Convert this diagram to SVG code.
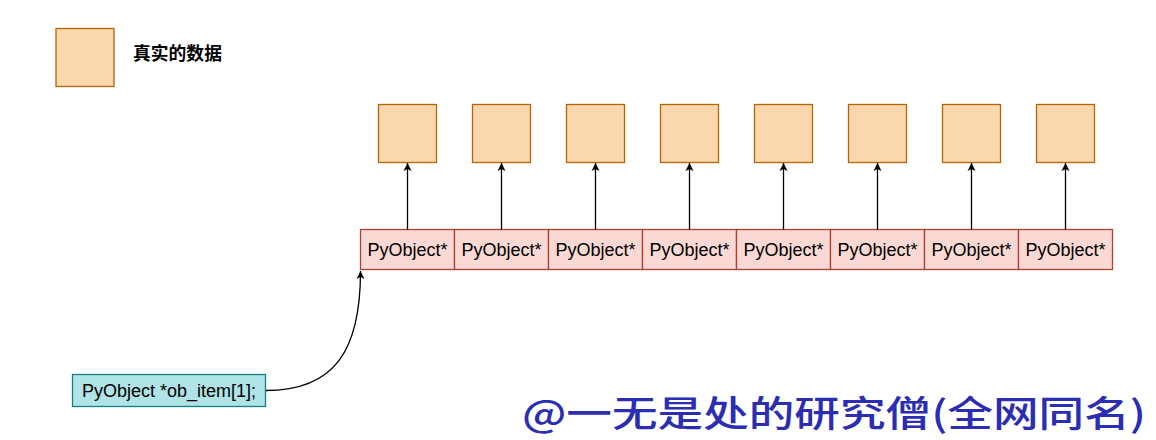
<svg xmlns="http://www.w3.org/2000/svg" width="1156" height="440" viewBox="0 0 1156 440">
<defs>
<style>
.data{fill:#fad7ac;stroke:#b46504;stroke-width:1.3}
.cell{fill:#fad9d5;stroke:#ae4132;stroke-width:1.3}
.ptr{fill:#b0e3e6;stroke:#0e8088;stroke-width:1.3}
.lbl{font-family:"Liberation Sans",Arial,sans-serif;font-size:18px;fill:#000;text-anchor:middle}
.conn{fill:none;stroke:#000;stroke-width:1.3}
</style>
<marker id="arr" markerWidth="10" markerHeight="10" refX="9" refY="5" orient="auto" markerUnits="userSpaceOnUse">
<path d="M1,1 L9,5 L1,9 L3,5 Z" fill="#000"/>
</marker>
</defs>
<rect width="1156" height="440" fill="#fff"/>
<g id="legend">
<rect class="data" x="56" y="28.5" width="58" height="58"/>
<text x="133" y="60" font-family="'Liberation Sans','Noto Sans CJK SC',sans-serif" font-size="17.8" font-weight="bold" fill="#000">真实的数据</text>
</g>
<g id="data-nodes">
<rect id="d0" class="data" x="378.5" y="104.5" width="58" height="58"/>
<rect id="d1" class="data" x="472.5" y="104.5" width="58" height="58"/>
<rect id="d2" class="data" x="566.5" y="104.5" width="58" height="58"/>
<rect id="d3" class="data" x="660.5" y="104.5" width="58" height="58"/>
<rect id="d4" class="data" x="754.5" y="104.5" width="58" height="58"/>
<rect id="d5" class="data" x="848.5" y="104.5" width="58" height="58"/>
<rect id="d6" class="data" x="942.5" y="104.5" width="58" height="58"/>
<rect id="d7" class="data" x="1036.5" y="104.5" width="58" height="58"/>
</g>
<g id="array">
<g id="c0"><rect class="cell" x="360.5" y="229.5" width="94" height="40"/><text class="lbl" x="407.5" y="256">PyObject*</text></g>
<g id="c1"><rect class="cell" x="454.5" y="229.5" width="94" height="40"/><text class="lbl" x="501.5" y="256">PyObject*</text></g>
<g id="c2"><rect class="cell" x="548.5" y="229.5" width="94" height="40"/><text class="lbl" x="595.5" y="256">PyObject*</text></g>
<g id="c3"><rect class="cell" x="642.5" y="229.5" width="94" height="40"/><text class="lbl" x="689.5" y="256">PyObject*</text></g>
<g id="c4"><rect class="cell" x="736.5" y="229.5" width="94" height="40"/><text class="lbl" x="783.5" y="256">PyObject*</text></g>
<g id="c5"><rect class="cell" x="830.5" y="229.5" width="94" height="40"/><text class="lbl" x="877.5" y="256">PyObject*</text></g>
<g id="c6"><rect class="cell" x="924.5" y="229.5" width="94" height="40"/><text class="lbl" x="971.5" y="256">PyObject*</text></g>
<g id="c7"><rect class="cell" x="1018.5" y="229.5" width="94" height="40"/><text class="lbl" x="1065.5" y="256">PyObject*</text></g>
</g>
<g id="ob-item">
<rect class="ptr" x="72.5" y="374.5" width="193" height="32"/>
<text class="lbl" x="169" y="397">PyObject *ob_item[1];</text>
</g>
<g id="connectors">
<line class="conn" x1="407.5" y1="229.5" x2="407.5" y2="163" marker-end="url(#arr)"/>
<line class="conn" x1="501.5" y1="229.5" x2="501.5" y2="163" marker-end="url(#arr)"/>
<line class="conn" x1="595.5" y1="229.5" x2="595.5" y2="163" marker-end="url(#arr)"/>
<line class="conn" x1="689.5" y1="229.5" x2="689.5" y2="163" marker-end="url(#arr)"/>
<line class="conn" x1="783.5" y1="229.5" x2="783.5" y2="163" marker-end="url(#arr)"/>
<line class="conn" x1="877.5" y1="229.5" x2="877.5" y2="163" marker-end="url(#arr)"/>
<line class="conn" x1="971.5" y1="229.5" x2="971.5" y2="163" marker-end="url(#arr)"/>
<line class="conn" x1="1065.5" y1="229.5" x2="1065.5" y2="163" marker-end="url(#arr)"/>
<path class="conn" d="M266,390.5 C335,390.5 360.5,350 360.5,271" marker-end="url(#arr)"/>
</g>
<text x="522" y="427" font-family="'Noto Sans CJK SC',sans-serif" font-size="36" font-weight="500" fill="#2b2db3" textLength="624" lengthAdjust="spacingAndGlyphs">@一无是处的研究僧(全网同名)</text>
</svg>
